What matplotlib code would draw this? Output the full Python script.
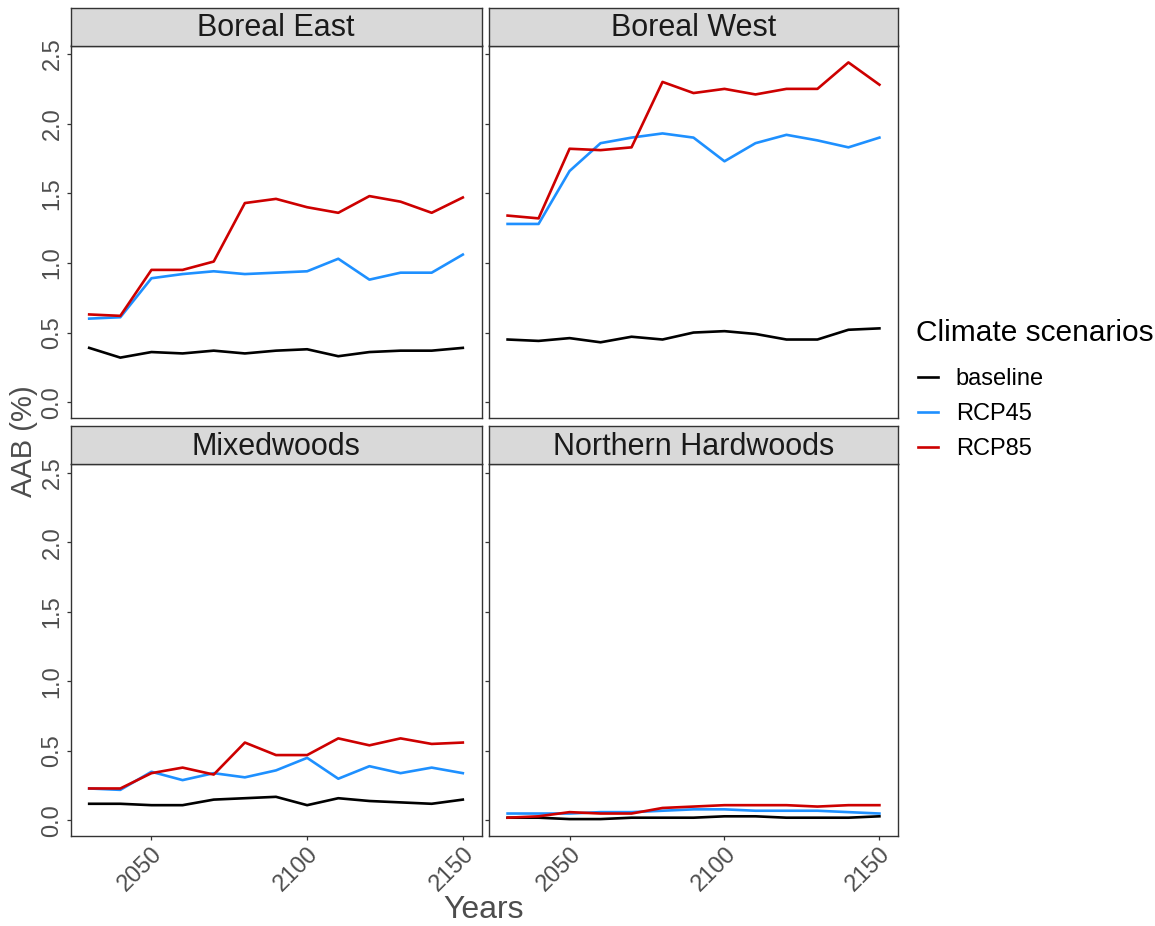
import matplotlib
matplotlib.use("Agg")
import matplotlib.pyplot as plt
from matplotlib.lines import Line2D
import numpy as np

plt.rcParams['font.family'] = ['Liberation Sans', 'DejaVu Sans']

years = [2030, 2040, 2050, 2060, 2070, 2080, 2090, 2100, 2110, 2120, 2130, 2140, 2150]

regions = ["Boreal East", "Boreal West", "Mixedwoods", "Northern Hardwoods"]
scenarios = ["baseline", "RCP45", "RCP85"]
colors = ["black", "#1E90FF", "#CD0000"]

# AAB (%) per region, one list per scenario
base_be = [0.39, 0.32, 0.36, 0.35, 0.37, 0.35, 0.37, 0.38, 0.33, 0.36, 0.37, 0.37, 0.39]
rcp45_be = [0.60, 0.61, 0.89, 0.92, 0.94, 0.92, 0.93, 0.94, 1.03, 0.88, 0.93, 0.93, 1.06]
rcp85_be = [0.63, 0.62, 0.95, 0.95, 1.01, 1.43, 1.46, 1.40, 1.36, 1.48, 1.44, 1.36, 1.47]

base_bw = [0.45, 0.44, 0.46, 0.43, 0.47, 0.45, 0.50, 0.51, 0.49, 0.45, 0.45, 0.52, 0.53]
rcp45_bw = [1.28, 1.28, 1.66, 1.86, 1.90, 1.93, 1.90, 1.73, 1.86, 1.92, 1.88, 1.83, 1.90]
rcp85_bw = [1.34, 1.32, 1.82, 1.81, 1.83, 2.30, 2.22, 2.25, 2.21, 2.25, 2.25, 2.44, 2.28]

base_mw = [0.12, 0.12, 0.11, 0.11, 0.15, 0.16, 0.17, 0.11, 0.16, 0.14, 0.13, 0.12, 0.15]
rcp45_mw = [0.23, 0.22, 0.35, 0.29, 0.34, 0.31, 0.36, 0.45, 0.30, 0.39, 0.34, 0.38, 0.34]
rcp85_mw = [0.23, 0.23, 0.34, 0.38, 0.33, 0.56, 0.47, 0.47, 0.59, 0.54, 0.59, 0.55, 0.56]

base_nh = [0.02, 0.02, 0.01, 0.01, 0.02, 0.02, 0.02, 0.03, 0.03, 0.02, 0.02, 0.02, 0.03]
rcp45_nh = [0.05, 0.05, 0.05, 0.06, 0.06, 0.07, 0.08, 0.08, 0.07, 0.07, 0.07, 0.06, 0.05]
rcp85_nh = [0.02, 0.03, 0.06, 0.05, 0.05, 0.09, 0.10, 0.11, 0.11, 0.11, 0.10, 0.11, 0.11]

series = {
    "Boreal East": [base_be, rcp45_be, rcp85_be],
    "Boreal West": [base_bw, rcp45_bw, rcp85_bw],
    "Mixedwoods": [base_mw, rcp45_mw, rcp85_mw],
    "Northern Hardwoods": [base_nh, rcp45_nh, rcp85_nh],
}

W, H = 1155, 926
fig = plt.figure(figsize=(W / 100, H / 100), dpi=100)

# panel boxes in pixels: (left, right) per column, (top, bottom) per row
cols = [(70.5, 481.5), (489, 898)]
rows = [(45.5, 417.7), (464, 836)]
strip_h = 37.5

allv = np.concatenate([np.array(v) for r in regions for v in series[r]])
rng = allv.max() - allv.min()
ylo, yhi = allv.min() - 0.05 * rng, allv.max() + 0.05 * rng
xr = years[-1] - years[0]
xlo, xhi = years[0] - 0.05 * xr, years[-1] + 0.05 * xr

edge = "#333333"
tickc = "#4D4D4D"

for i, reg in enumerate(regions):
    r, c = divmod(i, 2)
    x0, x1 = cols[c]
    y0, y1 = rows[r]
    ax = fig.add_axes([x0 / W, 1 - y1 / H, (x1 - x0) / W, (y1 - y0) / H])
    for vals, col in zip(series[reg], colors):
        ax.plot(years, vals, color=col, lw=1.9, solid_joinstyle='round')
    ax.set_xlim(xlo, xhi)
    ax.set_ylim(ylo, yhi)
    ax.set_xticks([2050, 2100, 2150])
    ax.set_yticks([0.0, 0.5, 1.0, 1.5, 2.0, 2.5])
    for s in ax.spines.values():
        s.set_color(edge)
        s.set_linewidth(1.0)
    ax.tick_params(direction='out', length=3, width=0.9, color=edge,
                   labelcolor=tickc, labelsize=17, pad=2)
    if c == 0:
        ax.set_yticklabels(["0.0", "0.5", "1.0", "1.5", "2.0", "2.5"],
                           rotation=90, va='center')
    else:
        ax.set_yticklabels([])
    if r == 1:
        ax.set_xticklabels(["2050", "2100", "2150"], rotation=45, ha='right',
                           rotation_mode='anchor')
    else:
        ax.set_xticklabels([])
        ax.tick_params(axis='x', length=0)

    # facet strip
    sax = fig.add_axes([x0 / W, 1 - y0 / H, (x1 - x0) / W, strip_h / H])
    sax.set_facecolor("#D9D9D9")
    sax.set_xticks([])
    sax.set_yticks([])
    for s in sax.spines.values():
        s.set_color(edge)
        s.set_linewidth(1.0)
    sax.text(0.5, 0.46, reg, ha='center', va='center', fontsize=22,
             color="#1A1A1A", transform=sax.transAxes)

fig.text(484 / W, 1 - 910 / H, "Years", ha='center', va='center',
         fontsize=23, color=tickc)
fig.text(24 / W, 1 - 441 / H, "AAB (%)", ha='center', va='center',
         rotation=90, fontsize=21, color=tickc)

# legend: title placed on its own, keys below
fig.text(916 / W, 1 - 333 / H, "Climate scenarios", ha='left', va='center',
         fontsize=21.5, color="black")
handles = [Line2D([], [], color=col, lw=1.9) for col in colors]
leg = fig.legend(handles, scenarios,
                 loc='upper left', bbox_to_anchor=(918 / W, 1 - 368 / H),
                 frameon=False, fontsize=17,
                 borderpad=0, borderaxespad=0,
                 handlelength=0.85, handletextpad=0.75, labelspacing=0.55)

fig.savefig("out.png", dpi=100)
